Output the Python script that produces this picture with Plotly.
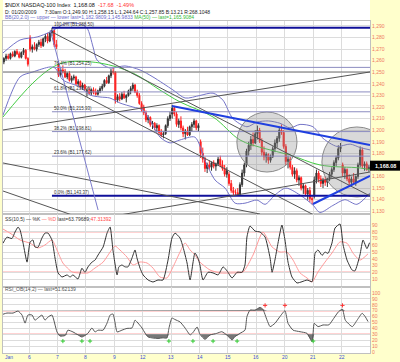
import plotly.graph_objects as go

# ---------------- data (30-minute bars, index 1..168) ----------------
bars = list(range(1, 169))
opens = [1259,1262,1264,1262,1266,1264,1268,1266,1263,1267,1269,1262,
         1280,1270,1272,1270,1274,1276,1273,1279,1281,1277,1284,1286,1274,
         1257,1248,1252,1251,1246,1249,1243,1245,1246,1240,1242,1237,1239,
         1233,1234,1232,1235,1233,1231,1234,1236,1238,1243,1241,1247,1251,
         1250,1226,1229,1227,1231,1228,1230,1234,1236,1239,1233,1230,1223,
         1220,1215,1209,1211,1205,1206,1202,1204,1198,1196,1197,1204,1210,
         1214,1219,1214,1205,1208,1202,1197,1199,1196,1203,1205,1208,1202,
         1190,1180,1175,1167,1170,1168,1172,1169,1171,1175,1170,1167,1162,
         1162,1154,1148,1146,1146,1144,1153,1163,1170,1182,1187,1192,1189,
         1197,1200,1191,1181,1177,1179,1174,1177,1184,1189,1193,1200,1198,
         1186,1173,1175,1168,1162,1165,1157,1159,1150,1152,1145,1148,1141,
         1143,1157,1163,1158,1154,1157,1155,1158,1162,1166,1172,1176,1184,
         1170,1163,1166,1158,1155,1158,1155,1160,1170,1183,1169,1171,1166]
highs = [1263,1266,1266,1267,1268,1269,1270,1268,1268,1271,1270,1263,
         1282,1274,1276,1275,1278,1279,1280,1283,1284,1285,1288.5,1287,1278,
         1258,1254,1256,1253,1250,1251,1247,1248,1247,1244,1243,1241,1240,
         1236,1237,1236,1237,1236,1235,1238,1240,1244,1246,1248,1253,1254,
         1251,1231,1232,1233,1234,1231,1235,1238,1241,1240,1235,1232,1225,
         1222,1217,1213,1212,1208,1207,1206,1205,1201,1199,1205,1212,1216,
         1222,1221,1216,1210,1212,1204,1201,1203,1204,1207,1210,1209,1206,
         1192,1185,1177,1172,1174,1173,1174,1172,1177,1178,1174,1170,1168,
         1164,1157,1151,1149,1150,1155,1166,1172,1184,1190,1195,1198,1200,
         1204,1202,1193,1186,1181,1180,1179,1186,1192,1195,1203,1205,1200,
         1188,1178,1177,1170,1168,1167,1161,1160,1154,1153,1150,1151,1143,
         1160,1166,1165,1161,1159,1160,1159,1164,1168,1174,1178,1187,1189,
         1172,1168,1167,1162,1160,1163,1161,1172,1186,1185,1173,1173,1170]
lows = [1257,1260,1261,1261,1263,1263,1265,1262,1262,1265,1261,1255,
        1268,1267,1269,1268,1272,1271,1272,1276,1275,1276,1281,1272,1270,
        1246,1246,1249,1245,1244,1242,1241,1243,1239,1238,1236,1235,1234,
        1229,1231,1230,1231,1230,1230,1232,1234,1237,1240,1240,1245,1248,
        1223,1224,1225,1226,1227,1224,1229,1231,1234,1232,1228,1222,1216,
        1213,1207,1206,1203,1201,1200,1199,1196,1194,1193,1196,1202,1208,
        1210,1212,1203,1202,1200,1194,1192,1195,1195,1199,1202,1200,1199,
        1176,1172,1164,1163,1166,1165,1167,1165,1169,1168,1165,1160,1159,
        1152,1146,1143.37,1144,1144,1143.5,1151,1160,1168,1178,1183,1186,1188,
        1192,1189,1178,1174,1172,1171,1172,1176,1181,1185,1190,1196,1184,
        1170,1167,1166,1160,1158,1155,1152,1148,1145,1143,1140,1138,1136,
        1141,1154,1155,1151,1150,1152,1151,1156,1159,1164,1169,1174,1181,
        1160,1158,1156,1152,1151,1153,1152,1158,1168,1167,1165,1165,1164]
closes = [1262,1264,1262,1266,1264,1268,1266,1263,1267,1269,1262,1257,
          1270,1272,1270,1274,1276,1273,1279,1281,1277,1284,1286,1274,1272,
          1248,1252,1251,1246,1249,1243,1245,1246,1240,1242,1237,1239,1236,
          1234,1232,1235,1233,1231,1234,1236,1238,1243,1241,1247,1251,1250,
          1226,1229,1227,1231,1228,1230,1234,1236,1239,1233,1230,1223,1218,
          1215,1209,1211,1205,1206,1202,1204,1198,1196,1197,1204,1210,1213,
          1219,1214,1205,1208,1202,1197,1199,1196,1203,1205,1208,1202,1204,
          1180,1175,1167,1170,1168,1172,1169,1171,1175,1170,1167,1162,1165,
          1154,1148,1146,1146,1144,1153,1163,1170,1182,1187,1192,1189,1197,
          1200,1191,1181,1177,1179,1174,1177,1184,1189,1193,1200,1198,1186,
          1173,1175,1168,1162,1165,1157,1159,1150,1152,1145,1148,1141,1140,
          1157,1163,1158,1154,1157,1155,1158,1162,1166,1172,1176,1184,1185.76,
          1163,1166,1158,1155,1158,1155,1160,1170,1183,1169,1171,1166,1168.08]

# Bollinger bands (20, 2.0)
bb_up_x = [0.6, 8.4, 16.2, 22.1, 29.9, 35.8, 39.0, 41.8, 43.6, 49.5, 56.4, 63.3, 69.2, 78.4, 83.9,
           90.7, 96.7, 101.2, 105.8, 112.2, 116.8, 122.0, 127.3, 131.9, 136.5, 142.4, 147.0, 153.4,
           159.4, 164.0, 168.5]
bb_upper = [1266.7, 1277.9, 1280.5, 1284.8, 1292.6, 1291.7, 1288.3, 1271.9, 1260.6, 1253.7, 1255.5,
            1252.0, 1246.0, 1234.7, 1227.8, 1230.0, 1232.0, 1226.0, 1210.0, 1203.0, 1207.0, 1208.0,
            1206.0, 1202.0, 1205.0, 1203.0, 1193.0, 1186.0, 1188.0, 1185.0, 1183.0]
bb_lo_x = [0.6, 8.4, 14.3, 22.1, 24.4, 28.0, 35.8, 40.4, 45.0, 49.5, 54.1, 60.1, 64.6, 67.8, 72.4,
           77.0, 81.6, 88.4, 93.0, 97.6, 102.2, 106.8, 111.3, 116.8, 120.5, 125.0, 130.0, 136.5,
           142.4, 145.6, 151.5, 157.0, 162.5, 168.5]
bb_lower = [1213.0, 1246.0, 1250.3, 1254.6, 1253.7, 1243.4, 1237.3, 1230.4, 1228.7, 1227.8, 1223.5,
            1220.0, 1217.5, 1208.8, 1194.1, 1189.0, 1191.6, 1194.0, 1174.0, 1157.0, 1150.0, 1137.0,
            1137.0, 1139.7, 1136.0, 1144.0, 1150.0, 1144.0, 1135.4, 1129.0, 1135.0, 1140.0, 1136.0,
            1146.0]
ma_x = [0.6, 14.3, 23.5, 29.9, 45.0, 60.0, 72.4, 81.6, 96.7, 109.0, 119.5, 131.9, 145.6, 163.9, 168.5]
ma50 = [1211.4, 1240.8, 1254.6, 1258.9, 1258.0, 1249.4, 1234.7, 1224.4, 1211.4, 1191.6, 1184.6,
        1178.6, 1170.0, 1167.4, 1165.9]

# Slow stochastic (10,5)
k_x = [0.6,2.4,4.7,6.1,7.5,8.4,9.8,11.6,13.0,14.3,15.2,16.6,18.4,19.8,21.2,23.0,24.4,25.8,27.6,29.9,
       31.3,32.6,34.9,36.7,38.1,39.5,41.3,42.7,44.1,46.4,48.2,49.6,50.9,52.8,53.6,55.0,56.4,57.8,59.6,
       61.0,61.9,63.3,64.7,67.0,69.2,71.5,73.8,76.1,77.9,79.3,81.6,83.0,84.8,86.2,88.4,89.8,90.7,92.1,
       94.4,96.7,99.0,101.3,103.1,105.4,107.7,110.0,111.3,112.2,113.6,115.9,118.2,120.5,122.8,123.7,
       125.0,126.4,128.2,129.6,131.0,132.8,135.1,137.4,139.7,142.0,143.4,144.7,146.6,147.9,149.3,
       151.1,152.5,154.8,156.2,158.0,160.3,161.6,163.9,165.3,167.1,168.3]
k_vals = [63,72,70,79.6,87,82.6,63,35,64.8,67.8,57.4,57,70.7,78,78,67.8,41,19,13,16,
          13,16,10,26,20,28,35,38,45.6,57.4,78,87,53,16,28,30.7,28,28,41,
          53,41,26,16,8.5,5.6,8.5,8.5,38,70.7,78,70.7,57,33.7,8.5,48.5,41,30.7,8.5,
          20,19,16,28,22,11.5,20,20,30.7,72.2,88.5,81,79.6,72.2,41,20,
          38,63,90,67.8,35,13,4.1,6,8.5,6,48.5,53,45,50,48,
          63.3,85.5,91.5,60.4,38,23.3,22,45.6,67.8,55,63.8]
d_x = [0.6,3.8,8.4,13.0,16.6,19.8,23.0,25.3,28.0,32.2,35.8,39.5,42.7,46.4,49.6,51.8,54.1,57.3,60.1,
       63.3,66.5,69.2,72.4,75.6,78.4,81.6,83.9,86.2,88.4,90.7,95.3,99.9,105.9,110.4,115.0,119.5,
       123.7,127.3,130.5,133.3,136.5,139.7,142.0,144.7,147.9,151.1,154.8,158.0,160.7,163.9,167.6]
d_vals = [84,78,67.8,63,56,60.4,67.8,53,33.7,20.4,19,19,26.3,35,50,59,53,42.6,30.7,
          35.2,33.7,26.3,13,11.5,28,50,63.3,53,45.6,35,23.3,19,19,20.4,45.6,79.6,
          57.4,50,50,38,19,11.5,5.6,20.4,35,48.5,65,63,48.5,38,47.3]

# RSI_OB (14,2)
rsi_x = [0.6,2.4,5.2,7.5,9.3,10.7,12.0,13.9,15.2,16.6,18.4,19.8,21.2,23.0,25.3,26.7,29.0,30.3,32.6,
         34.9,36.7,38.1,39.5,41.3,42.7,44.1,46.4,48.2,49.6,50.9,51.8,52.8,55.0,57.3,59.6,61.0,61.9,
         64.2,65.6,67.0,69.2,71.5,73.8,75.6,76.5,77.9,79.3,81.6,83.9,86.2,87.5,89.4,90.7,93.0,95.3,
         98.4,100.7,103.0,105.4,106.7,109.0,111.3,112.2,113.6,115.9,118.2,119.5,121.4,122.8,125.0,
         127.3,129.6,131.0,133.3,136.5,139.7,142.0,143.0,144.7,147.0,149.7,151.9,154.1,155.9,157.2,
         160.4,162.6,164.9,166.3,167.6]
rsi_vals = [64,66,66,69.5,62.7,49,62.7,62.7,54,57.6,62.7,54,59.3,62.7,34,27,28,37,34,
            29,25.4,28,32,40.7,34,37,37,49,62.7,64.4,51,34,37,40,40.7,54,51,
            40.7,32,25.4,23.7,23,24,23.7,40,57.6,55,51,40.7,29,33,42.4,30,21.5,28.8,
            31.6,34.4,28.8,20.3,26,31.6,37,60,71,71,75.7,72.4,54,43,48.6,
            60,70,48.6,37,34.4,31.6,17.5,48.6,43,45.8,46,57,68.3,72.4,54,
            43,54,65.6,60,51.6]
buy_x = [28.0, 36.7, 40.4, 76.5, 87.5, 96.7, 107.7, 142.5]
sell_x = [120.5, 129.6, 155.9]

# Fibonacci retracement and drawn tools
fib_high = 1288.50
fib_low = 1143.37
fib_start = 23.0
fib_pcts = [0.0, 23.6, 38.2, 50.0, 61.8, 76.4, 100.0]
gray_lines = [(23.0, 1284.8, 168.5, 1143.2), (22.1, 1245.1, 142.4, 1127.2),
              (0.6, 1200.2, 168.5, 1250.3), (54.1, 1126.8, 168.5, 1163.9),
              (0.6, 1171.7, 118.2, 1127.6), (0.6, 1147.5, 32.2, 1126.8)]
slate_lines = [(22.2, 1286.5, 44.1, 1131.1)]
blue_lines = [(77.9, 1220.9, 168.5, 1187.2), (142.4, 1136.3, 168.5, 1160.5)]
hline_level = 1250.3
circles = [(107.6, 1215.7, 135.1, 1163.9), (146.5, 1202.8, 178.5, 1142.3)]

day_bounds = [12.5, 25.5, 38.5, 51.5, 64.5, 77.5, 90.5, 103.5, 116.5, 129.5, 142.5, 155.5]
day_labels = ["6", "7", "8", "9", "12", "13", "14", "15", "16", "20", "21", "22"]
price_ticks = list(range(1130, 1300, 10))
stoch_ticks = list(range(10, 100, 10))
rsi_ticks = list(range(0, 110, 10))
last_price = 1168.08

# ---------------- figure ----------------
FONT = "Liberation Sans"
AX_COL = "#F07860"
GRID = "#DCDCDC"
PLOT_H = 332.0        # plot-area height in pixels (t=21, b=9)
def py(px):           # pixel row -> paper y
    return (353.0 - px) / PLOT_H

fig = go.Figure()

fig.add_trace(go.Candlestick(
    x=bars, open=opens, high=highs, low=lows, close=closes, whiskerwidth=0,
    increasing=dict(line=dict(color="#333333", width=1), fillcolor="#444444"),
    decreasing=dict(line=dict(color="#FF2020", width=1), fillcolor="#FF2020"),
    showlegend=False, hoverinfo="skip", xaxis="x", yaxis="y"))
fig.add_trace(go.Scatter(x=bb_up_x, y=bb_upper, mode="lines", line=dict(color="#7474C8", width=1, shape="spline", smoothing=0.8),
                         showlegend=False, hoverinfo="skip", xaxis="x", yaxis="y"))
fig.add_trace(go.Scatter(x=bb_lo_x, y=bb_lower, mode="lines", line=dict(color="#7474C8", width=1, shape="spline", smoothing=0.8),
                         showlegend=False, hoverinfo="skip", xaxis="x", yaxis="y"))
fig.add_trace(go.Scatter(x=ma_x, y=ma50, mode="lines", line=dict(color="#44CC44", width=1, shape="spline"),
                         showlegend=False, hoverinfo="skip", xaxis="x", yaxis="y"))

# stochastic
fig.add_trace(go.Scatter(x=d_x, y=d_vals, mode="lines", line=dict(color="#FF9A9A", width=1, shape="spline", smoothing=0.6),
                         showlegend=False, hoverinfo="skip", xaxis="x2", yaxis="y2"))
fig.add_trace(go.Scatter(x=k_x, y=k_vals, mode="lines", line=dict(color="#333333", width=1, shape="spline", smoothing=0.5),
                         showlegend=False, hoverinfo="skip", xaxis="x2", yaxis="y2"))

# RSI shading
lo_clip = [min(v, 30) for v in rsi_vals]
hi_clip = [max(v, 70) for v in rsi_vals]
for base, clip in ((30, lo_clip), (70, hi_clip)):
    fig.add_trace(go.Scatter(x=rsi_x, y=[base] * len(rsi_x), mode="lines", line=dict(width=0),
                             showlegend=False, hoverinfo="skip", xaxis="x3", yaxis="y3"))
    fig.add_trace(go.Scatter(x=rsi_x, y=clip, mode="lines", line=dict(width=0), fill="tonexty",
                             fillcolor="rgba(95,95,95,0.85)", showlegend=False, hoverinfo="skip",
                             xaxis="x3", yaxis="y3"))
fig.add_trace(go.Scatter(x=rsi_x, y=rsi_vals, mode="lines", line=dict(color="#555555", width=1, shape="spline", smoothing=0.5),
                         showlegend=False, hoverinfo="skip", xaxis="x3", yaxis="y3"))
fig.add_trace(go.Scatter(x=buy_x, y=[18.5] * len(buy_x), mode="markers",
                         marker=dict(symbol="cross-thin", size=3, line=dict(color="#33CC33", width=1)),
                         showlegend=False, hoverinfo="skip", xaxis="x3", yaxis="y3"))
fig.add_trace(go.Scatter(x=sell_x, y=[79] * len(sell_x), mode="markers",
                         marker=dict(symbol="cross-thin", size=3, line=dict(color="#FF3333", width=1)),
                         showlegend=False, hoverinfo="skip", xaxis="x3", yaxis="y3"))

shapes = []
# header white band
shapes.append(dict(type="rect", xref="paper", yref="paper", x0=0, x1=1, y0=1, y1=py(0),
                   fillcolor="white", line=dict(width=0), layer="below"))
# circles
for x0, y0, x1, y1 in circles:
    shapes.append(dict(type="circle", xref="x", yref="y", x0=x0, y0=y0, x1=x1, y1=y1,
                       fillcolor="rgba(140,140,140,0.33)", line=dict(color="#8A8A8A", width=1), layer="above"))
# horizontal gray
shapes.append(dict(type="line", xref="x", yref="y", x0=0.6, x1=168.5, y0=hline_level, y1=hline_level,
                   line=dict(color="#777777", width=1)))
# fibonacci lines
for p in fib_pcts:
    lvl = fib_low + (fib_high - fib_low) * p / 100.0
    strong = p in (0.0, 100.0)
    shapes.append(dict(type="line", xref="x", yref="y", x0=fib_start, x1=168.5, y0=lvl, y1=lvl,
                       line=dict(color="#10109A" if strong else "#8C8CC0", width=2 if strong else 1)))
for x0, y0, x1, y1 in gray_lines:
    shapes.append(dict(type="line", xref="x", yref="y", x0=x0, y0=y0, x1=x1, y1=y1,
                       line=dict(color="#555555", width=1)))
for x0, y0, x1, y1 in slate_lines:
    shapes.append(dict(type="line", xref="x", yref="y", x0=x0, y0=y0, x1=x1, y1=y1,
                       line=dict(color="#7C7CCC", width=1)))
for x0, y0, x1, y1 in blue_lines:
    shapes.append(dict(type="line", xref="x", yref="y", x0=x0, y0=y0, x1=x1, y1=y1,
                       line=dict(color="#1F3FE0", width=2)))
# oscillator bands
for yref, lv in (("y2", 80), ("y2", 20), ("y3", 70), ("y3", 30)):
    shapes.append(dict(type="line", xref="paper", yref=yref, x0=0, x1=1, y0=lv, y1=lv,
                       line=dict(color="#FFA8A8", width=1.5), layer="below"))
# last-price box in the right gutter
box_px = 26 + (1290 - last_price) * 1.158 - 1.5
shapes.append(dict(type="rect", xref="paper", yref="paper", x0=1.0, x1=1.0 + 30 / 367.0,
                   y0=py(box_px + 5), y1=py(box_px - 5), fillcolor="black", line=dict(width=0),
                   layer="above"))

ann = []
def txt(x, y, s, size=5, color="#222222", xref="paper", yref="paper", xanchor="left", yanchor="middle", **kw):
    ann.append(dict(x=x, y=y, xref=xref, yref=yref, text=s, showarrow=False, xanchor=xanchor,
                    yanchor=yanchor, font=dict(family=FONT, size=size, color=color), **kw))

NB = "\u00a0"
txt(0, py(5), "$NDX NASDAQ-100 Index" + NB * 2 + "1,168.08" + NB * 2 +
    "<span style='color:#FF3333'>-17.68" + NB * 2 + "-1.49%</span>", size=5.5, color="#111111")
txt(0, py(11.5), "D: 01/20/2009" + NB * 6 + "7:30am O:1,249.90 H:1,258.15 L:1,244.64 C:1,257.85 B:13.21 R:268.1048",
    size=5, color="#222222")
txt(0, py(17.3), "<span style='color:#6A6ACC'>BB(20,2.0) — upper — lower last=1,182.9809;1,145.9833</span> "
    "<span style='color:#33BB33'>MA(50) — last=1,165.9084</span>", size=5)
txt(0, py(219), "SS(10,5) — %K <span style='color:#FF6666'>— %D</span> last=63.79689;<span style='color:#FF4444'>47.31392</span>",
    size=5, color="#333333")
txt(0, py(289), "RSI_OB(14,2) — last=51.62139", size=5, color="#555555")

for p in fib_pcts:
    lvl = fib_low + (fib_high - fib_low) * p / 100.0
    txt(fib_start, lvl, f"{p:.1f}% (B{lvl:,.2f})", size=4.5, color="#333333", xref="x", yref="y",
        yanchor="bottom", yshift=-1)

# date labels
txt(0.8, py(357), "Jan", size=5, color="#3A50D8", xref="x", yanchor="middle")
for xb, lab in zip(day_bounds, day_labels):
    txt(xb, py(357), lab, size=5, color="#3A50D8", xref="x", xanchor="center", yanchor="middle")

# last price text (on the black box, covering the 1,170 label as in the source)
txt(1.0 + 15 / 367.0, py(box_px), "<b>1,168.08</b>", size=5.5, color="white", xanchor="center")

xcommon = dict(range=[0.6, 168.5], tickvals=day_bounds, showticklabels=False, showgrid=True,
               gridcolor=GRID, gridwidth=1, zeroline=False, showline=True, linecolor="#C0C0C0",
               mirror=True, ticks="", ticklen=0)
ycommon = dict(side="right", showgrid=True, gridcolor=GRID, gridwidth=1, zeroline=False, showline=True,
               linecolor="#C0C0C0", mirror=True, ticks="", ticklen=0,
               tickfont=dict(family=FONT, size=5, color=AX_COL))

price_text = ["" if v == 1170 else f"{v:,}" for v in price_ticks]

fig.update_layout(
    width=400, height=362,
    margin=dict(l=3, r=30, t=21, b=9),
    paper_bgcolor="#FFFFCC", plot_bgcolor="white",
    font=dict(family=FONT, size=5),
    showlegend=False,
    hovermode=False,
    xaxis=dict(**xcommon, anchor="y", rangeslider=dict(visible=False)),
    xaxis2=dict(**xcommon, anchor="y2"),
    xaxis3=dict(**xcommon, anchor="y3"),
    yaxis=dict(**ycommon, domain=[py(214), 1.0], range=[1127.65, 1294.3], anchor="x",
               tickvals=price_ticks, ticktext=price_text),
    yaxis2=dict(**ycommon, domain=[py(287), py(214)], range=[-1.85, 106.3], anchor="x2",
                tickvals=stoch_ticks),
    yaxis3=dict(**ycommon, domain=[0.0, py(287)], range=[-1.7, 110.2], anchor="x3",
                tickvals=rsi_ticks),
    shapes=shapes, annotations=ann,
)

fig.write_html("out.html", config={"displayModeBar": False, "staticPlot": True},
               post_script="document.body.style.margin='0';document.body.style.overflow='hidden';")
